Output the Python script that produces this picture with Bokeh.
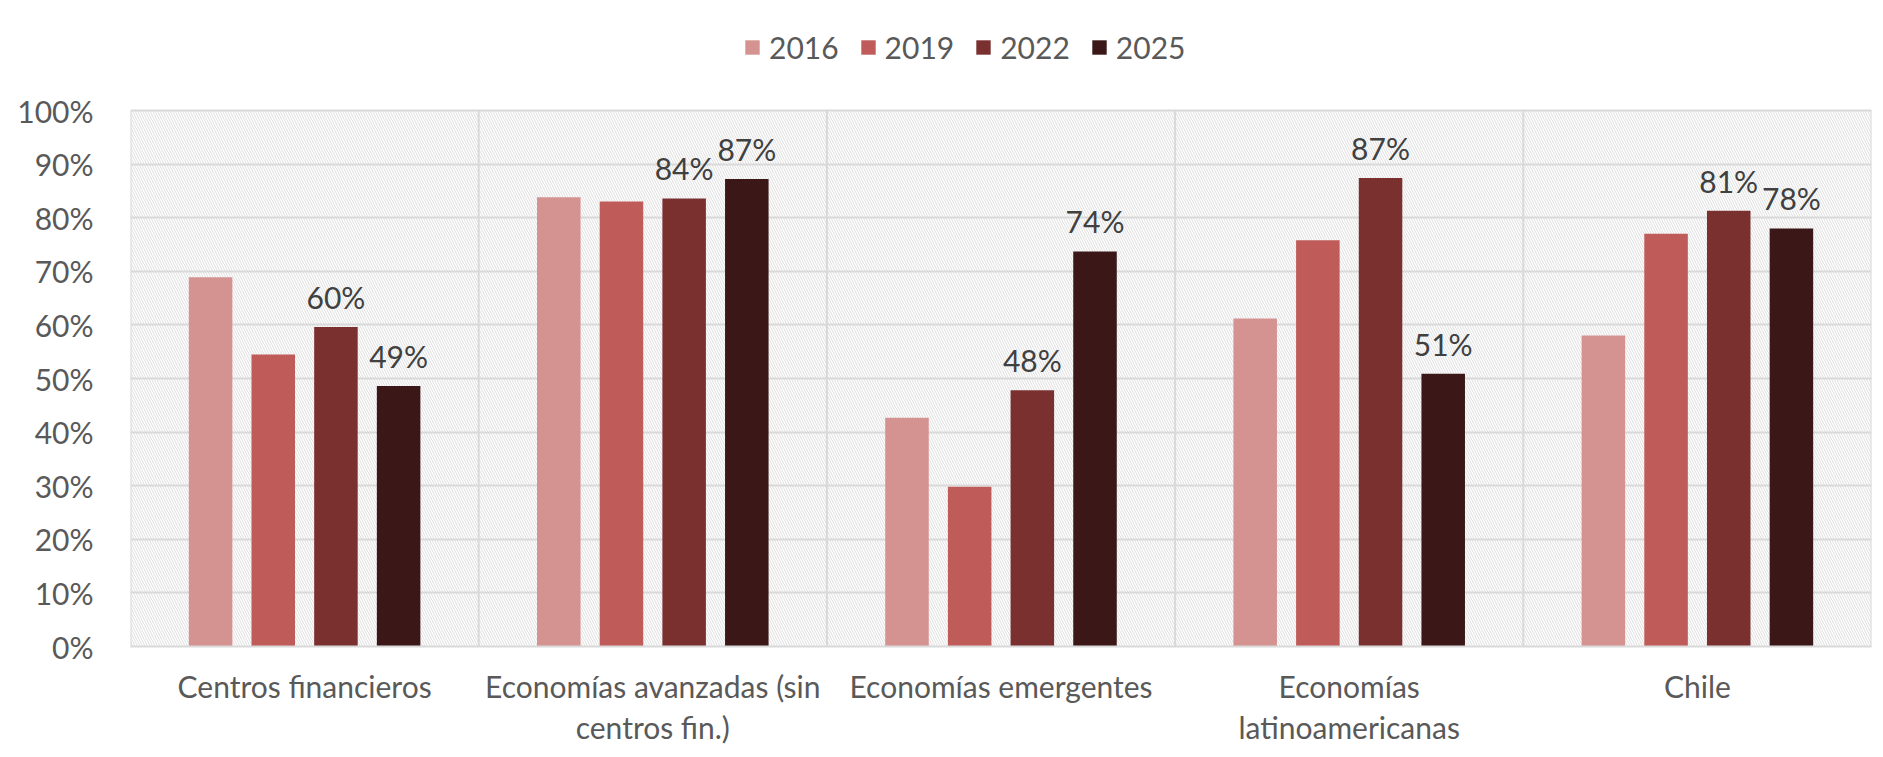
from bokeh.plotting import figure
from bokeh.models import Range1d, FixedTicker, NumeralTickFormatter, ColumnDataSource, Legend, LegendItem
from bokeh.core.properties import value
from bokeh.embed import file_html
from bokeh.resources import INLINE

categories = ["Centros financieros", "Economías avanzadas (sin\ncentros fin.)",
              "Economías emergentes", "Economías\nlatinoamericanas", "Chile"]
years = ["2016", "2019", "2022", "2025"]
v2016 = [0.689, 0.838, 0.427, 0.612, 0.580]
v2019 = [0.545, 0.830, 0.298, 0.758, 0.770]
v2022 = [0.596, 0.836, 0.478, 0.874, 0.813]
v2025 = [0.486, 0.872, 0.737, 0.509, 0.780]
colors = ["#D49290", "#BF5B58", "#7B3030", "#3B1717"]
series = [v2016, v2019, v2022, v2025]
labeled = [False, False, True, True]
offsets = [-0.27, -0.09, 0.09, 0.27]

FONT = "Lato"
FS = "30px"
TXT = "#595959"
GRID = "#d9d9d9"

# frame spans page y 10..646; the value axis 0..1 occupies 110..646
PLOT_TOP_PX, AXIS_TOP_PX, AXIS_BOTTOM_PX = 10, 110, 646
y_end = (AXIS_BOTTOM_PX - PLOT_TOP_PX) / (AXIS_BOTTOM_PX - AXIS_TOP_PX)

p = figure(width=1883, height=757, output_backend="svg", toolbar_location=None,
           x_range=Range1d(0, 5), y_range=Range1d(0, y_end))
p.min_border_left = 130
p.min_border_right = 12
p.min_border_top = PLOT_TOP_PX
p.min_border_bottom = 757 - AXIS_BOTTOM_PX
p.outline_line_color = None
p.background_fill_color = "white"
p.border_fill_color = "white"

n = len(categories)

# hatched plot area background
bg = p.quad(left=[0], right=[n], bottom=[0], top=[1], fill_alpha=0, line_color=None,
            hatch_pattern="\\", hatch_color="#dedede", hatch_scale=5, hatch_weight=1)
bg.level = "image"

# vertical separators between categories (only inside the value area)
bounds = list(range(n + 1))
sep = p.segment(x0=bounds, x1=bounds, y0=[0] * (n + 1), y1=[1] * (n + 1),
                line_color=GRID, line_width=2)
sep.level = "underlay"

items = []
for s, vals in enumerate(series):
    xs = [i + 0.5 + offsets[s] for i in range(n)]
    src = ColumnDataSource(dict(x=xs, top=vals,
                                lab=[f"{round(v * 100)}%" for v in vals]))
    r = p.vbar(x="x", top="top", width=0.125, bottom=0, source=src,
               fill_color=colors[s], line_color=None)
    items.append(LegendItem(label=years[s], renderers=[r]))
    if labeled[s]:
        p.text(x="x", y="top", text="lab", source=src, text_align="center",
               text_baseline="alphabetic", y_offset=-30, text_font=value(FONT),
               text_font_size=FS, text_color="#404040")

# axes
yticks = [i / 10 for i in range(11)]
p.yaxis.ticker = FixedTicker(ticks=yticks)
p.yaxis.formatter = NumeralTickFormatter(format="0%")
p.yaxis.axis_line_color = None
p.yaxis.major_tick_line_color = None
p.yaxis.minor_tick_line_color = None
p.yaxis.major_label_standoff = 31
p.yaxis.major_label_text_font = FONT
p.yaxis.major_label_text_font_size = FS
p.yaxis.major_label_text_color = TXT

p.xaxis.ticker = FixedTicker(ticks=[i + 0.5 for i in range(n)])
p.xaxis.major_label_overrides = {i + 0.5: categories[i] for i in range(n)}
p.xaxis.axis_line_color = GRID
p.xaxis.axis_line_width = 2
p.xaxis.major_tick_line_color = None
p.xaxis.minor_tick_line_color = None
p.xaxis.major_label_standoff = 15
p.xaxis.major_label_text_font = FONT
p.xaxis.major_label_text_font_size = FS
p.xaxis.major_label_text_color = TXT
p.xaxis.major_label_text_line_height = 1.15

p.ygrid.ticker = FixedTicker(ticks=yticks)
p.ygrid.grid_line_color = GRID
p.ygrid.grid_line_width = 2
p.xgrid.visible = False

lg = Legend(items=items, orientation="horizontal", location=(613, 581),
            glyph_width=18, glyph_height=18, label_standoff=8, spacing=20,
            padding=0, margin=0, border_line_color=None, background_fill_alpha=0,
            label_text_font=FONT, label_text_font_size=FS, label_text_color=TXT)
p.add_layout(lg, "center")

open("out.html", "w").write(file_html(p, INLINE))
